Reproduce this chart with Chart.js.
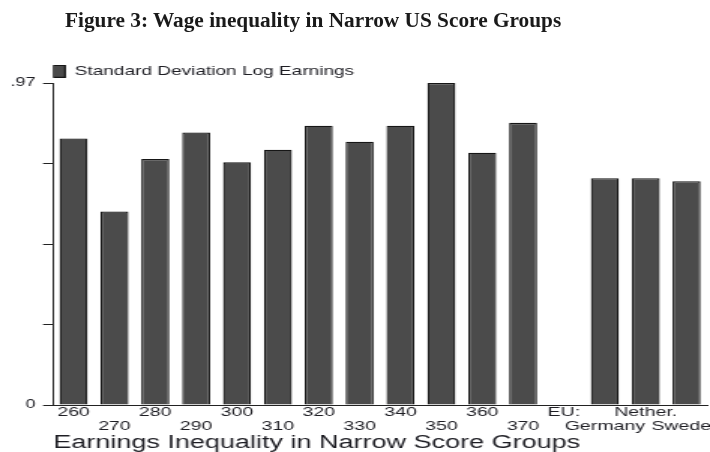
<!DOCTYPE html>
<html>
<head>
<meta charset="utf-8">
<title>Wage inequality in Narrow US Score Groups</title>
<script src="https://cdn.jsdelivr.net/npm/chart.js@4.4.1/dist/chart.umd.min.js"></script>
<style>
  html, body { margin: 0; padding: 0; background: #fff; }
  .figure { position: relative; width: 710px; height: 452px; overflow: hidden; }
  .figure-title {
    position: absolute; left: 65px; top: 10px; margin: 0;
    font: bold 21.3px "Liberation Serif", "Times New Roman", serif;
    line-height: 1; color: #1a1a1a; white-space: nowrap;
  }
  #wageChart { display: block; }
</style>
</head>
<body>
<div class="figure">
  <h1 class="figure-title">Figure 3: Wage inequality in Narrow US Score Groups</h1>
  <!-- the source graph is stretched sideways, so the canvas is drawn narrow and scaled up -->
  <canvas id="wageChart" width="473" height="452" style="width:710px;height:452px"></canvas>
</div>
<script>
// Data
const scoreGroups = ['260', '270', '280', '290', '300', '310', '320', '330', '340', '350', '360', '370', 'EU:', 'Germany', 'Nether.', 'Sweden'];
const stdLogEarnings = [0.803, 0.583, 0.741, 0.821, 0.731, 0.769, 0.841, 0.793, 0.841, 0.97, 0.760, 0.850, null, 0.683, 0.683, 0.674];
const yTickValues = [0, 0.2425, 0.485, 0.7275, 0.97];
const yTickLabels = ['0', '', '', '', '.97'];

const textColor = '#1e1e24';
const axisColor = '#222';

document.addEventListener('DOMContentLoaded', function() {
  Chart.defaults.font.family = "'Liberation Sans', Arial, sans-serif";
  Chart.defaults.color = textColor;
  initializeWageChart();
});

// labels alternate between the first and second row under the axis
function stackedLabels(list) {
  return list.map((label, i) => i % 2 === 0 ? [label, ''] : ['', label]);
}

function initializeWageChart() {
  const ctx = document.getElementById('wageChart').getContext('2d');
  new Chart(ctx, {
    type: 'bar',
    data: {
      labels: stackedLabels(scoreGroups),
      datasets: [{
        label: 'Standard Deviation Log Earnings',
        data: stdLogEarnings,
        backgroundColor: '#4b4b4b',
        borderColor: '#161616',
        borderWidth: 1.3,
        categoryPercentage: 1,
        barPercentage: 0.685
      }]
    },
    options: {
      responsive: false,
      animation: false,
      layout: { padding: { top: 65, left: 2, right: 2, bottom: 0 } },
      plugins: {
        tooltip: { enabled: false },
        legend: {
          display: true,
          position: 'top',
          align: 'start',
          fullSize: false,
          maxHeight: 18,
          labels: {
            boxWidth: 8,
            boxHeight: 12,
            padding: 0,
            color: textColor,
            font: { size: 12.7 }
          }
        }
      },
      scales: {
        x: {
          offset: true,
          grid: { display: false, drawTicks: false },
          border: { display: true, color: axisColor, width: 1 },
          ticks: {
            autoSkip: false,
            maxRotation: 0,
            minRotation: 0,
            padding: 0,
            color: textColor,
            font: { size: 13, lineHeight: 1.115 }
          },
          title: {
            display: true,
            text: 'Earnings Inequality in Narrow Score Groups',
            align: 'start',
            color: textColor,
            padding: 0,
            font: { size: 18, lineHeight: 1 }
          },
          // let "Sweden" run off the edge instead of shrinking the plot
          afterFit: function(scale) {
            scale.paddingRight = 0;
          }
        },
        y: {
          min: 0,
          max: 0.97,
          afterBuildTicks: function(scale) {
            scale.ticks = yTickValues.map(v => ({ value: v }));
          },
          grid: {
            display: true,
            drawOnChartArea: false,
            drawTicks: true,
            tickLength: 6.7,
            color: axisColor,
            lineWidth: 1
          },
          border: { display: true, color: axisColor, width: 1 },
          ticks: {
            padding: 5,
            color: textColor,
            font: { size: 12 },
            callback: function(value, index) {
              return yTickLabels[index];
            }
          }
        }
      }
    }
  });
}
</script>
</body>
</html>
